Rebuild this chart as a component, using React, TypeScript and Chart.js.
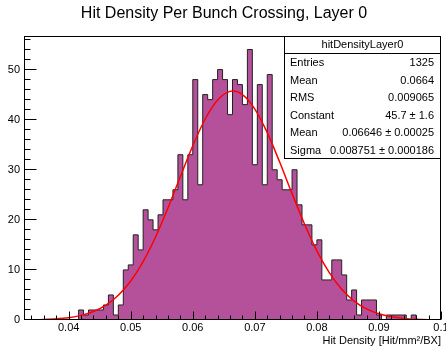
import React, { useEffect, useRef } from 'react';
import { Chart, registerables } from 'chart.js';

Chart.register(...registerables);

// ---- Histogram binning (ROOT TH1: 84 bins from 0.0328 to 0.1) ----
const binLow = 0.0328;
const binHigh = 0.1;
const binWidth = 0.0008;

// Bin contents (bin 0 .. bin 83)
const binCounts = [
  0, 0, 0, 0, 0, 0, 0, 0, 0, 0, 0,
  2, 1, 2, 2, 2, 3, 5, 1, 3, 10, 11, 17, 14, 22,
  20, 18, 21, 24, 24, 26, 33, 24, 33, 48, 27,
  45, 44, 48, 50, 48, 41, 48, 47, 43, 54, 31, 47,
  27, 49, 30, 28, 26, 26, 30, 23, 19, 19, 15, 16,
  8, 8, 12, 12, 9, 4, 6, 1, 4, 4, 4, 1, 0, 1, 1, 1, 1, 0, 1,
  0, 0, 0, 0, 0,
];

const fitX = [
  0.0328, 0.034, 0.036, 0.038, 0.04, 0.042, 0.044, 0.046, 0.048, 0.05,
  0.052, 0.054, 0.056, 0.058, 0.06, 0.062, 0.064, 0.066, 0.06646, 0.068,
  0.07, 0.072, 0.074, 0.076, 0.078, 0.08, 0.082, 0.084, 0.086, 0.088,
  0.09, 0.092, 0.094, 0.096, 0.098, 0.1,
];
const fitY = [
  0.03, 0.05, 0.11, 0.23, 0.47, 0.92, 1.70, 2.97, 4.94, 7.79,
  11.67, 16.58, 22.37, 28.64, 34.80, 40.13, 43.93, 45.64, 45.7, 45.0,
  42.11, 37.40, 31.53, 25.23, 19.16, 13.81, 9.45, 6.13, 3.78, 2.21,
  1.23, 0.65, 0.32, 0.15, 0.07, 0.03,
];

const yMax = 56.7;
const xTickValues = [0.04, 0.05, 0.06, 0.07, 0.08, 0.09, 0.1];
const xTickLabels = ['0.04', '0.05', '0.06', '0.07', '0.08', '0.09', '0.1'];
const yTickValues = [0, 10, 20, 30, 40, 50];
const yTickLabels = ['0', '10', '20', '30', '40', '50'];

const titleText = 'Hit Density Per Bunch Crossing, Layer 0';
const xTitleText = 'Hit Density [Hit/mm\u00B2/BX]';
const statsName = 'hitDensityLayer0';
const statsLabels = ['Entries', 'Mean', 'RMS', 'Constant', 'Mean', 'Sigma'];
const statsValues = ['1325', '0.0664', '0.009065', '45.7 \u00B1 1.6', '0.06646 \u00B1 0.00025', '0.008751 \u00B1 0.000186'];

const FONT = '"Liberation Sans", Arial, Helvetica, sans-serif';
const HIST_FILL = '#b5519b';
const HIST_LINE = '#222222';
const FIT_COLOR = '#ff0000';

const rootDecor = {
  id: 'rootDecor',
  afterDraw(chart: any) {
    const { ctx, chartArea: a } = chart;
    const xs = chart.scales.x;
    const ys = chart.scales.y;
    ctx.save();
    ctx.strokeStyle = '#000';
    ctx.lineWidth = 1;

    const L = Math.round(a.left) + 0.5;
    const R = Math.round(a.right) - 0.5;
    const T = Math.round(a.top) + 0.5;
    const B = Math.round(a.bottom) - 0.5;

    // frame
    ctx.strokeRect(L, T, R - L, B - T);

    // x ticks (inside, pointing up)
    ctx.beginPath();
    for (let k = 17; k <= 50; k++) {
      const v = k * 0.002;
      if (v < binLow || v > binHigh + 1e-9) continue;
      const px = Math.round(xs.getPixelForValue(v)) + 0.5;
      const len = k % 5 === 0 ? 8 : 4;
      ctx.moveTo(px, B);
      ctx.lineTo(px, B - len);
    }
    // y ticks (inside, pointing right)
    for (let k = 0; k <= 28; k++) {
      const v = k * 2;
      if (v > yMax) continue;
      const py = Math.round(ys.getPixelForValue(v)) - 0.5;
      const len = k % 5 === 0 ? 12 : 6;
      ctx.moveTo(L, py);
      ctx.lineTo(L + len, py);
    }
    ctx.stroke();

    // tick labels
    ctx.fillStyle = '#000';
    ctx.font = `11px ${FONT}`;
    ctx.textAlign = 'center';
    ctx.textBaseline = 'middle';
    xTickValues.forEach((v, i) => {
      ctx.fillText(xTickLabels[i], xs.getPixelForValue(v), 328);
    });
    ctx.textAlign = 'right';
    yTickValues.forEach((v, i) => {
      ctx.fillText(yTickLabels[i], 20, ys.getPixelForValue(v));
    });

    // x title
    ctx.textAlign = 'right';
    ctx.fillText(xTitleText, 441, 341);

    // title
    ctx.font = `16px ${FONT}`;
    ctx.textAlign = 'center';
    ctx.fillText(titleText, 224, 14);

    // stats box
    const bx = 284.5, by = T, bw = R - 284.5, bh = 122;
    ctx.fillStyle = '#fff';
    ctx.fillRect(bx, by, bw, bh);
    ctx.strokeRect(bx, by, bw, bh);
    ctx.beginPath();
    ctx.moveTo(bx, 53.5);
    ctx.lineTo(bx + bw, 53.5);
    ctx.stroke();

    ctx.fillStyle = '#000';
    ctx.font = `11px ${FONT}`;
    ctx.textAlign = 'center';
    ctx.fillText(statsName, bx + bw / 2, 45);
    statsLabels.forEach((lab, i) => {
      const yy = 63 + 17.5 * i;
      ctx.textAlign = 'left';
      ctx.fillText(lab, 290, yy);
      ctx.textAlign = 'right';
      ctx.fillText(statsValues[i], 434, yy);
    });

    ctx.restore();
  },
};

export default function App() {
  const canvasRef = useRef<HTMLCanvasElement | null>(null);

  useEffect(() => {
    const canvas = canvasRef.current;
    if (!canvas) return;

    const histPoints = binCounts.map((c, i) => ({ x: binLow + i * binWidth, y: c }));
    histPoints.push({ x: binHigh, y: 0 });
    const fitPoints = fitX.map((x, i) => ({ x, y: fitY[i] }));

    const chart = new Chart(canvas, {
      type: 'line',
      data: {
        datasets: [
          {
            label: 'fit',
            data: fitPoints,
            borderColor: FIT_COLOR,
            borderWidth: 1.5,
            pointRadius: 0,
            fill: false,
            cubicInterpolationMode: 'monotone',
            order: 0,
          },
          {
            label: 'hitDensityLayer0',
            data: histPoints,
            stepped: true,
            borderColor: HIST_LINE,
            borderWidth: 1,
            backgroundColor: HIST_FILL,
            fill: 'origin',
            pointRadius: 0,
            order: 1,
          },
        ],
      },
      options: {
        animation: false,
        responsive: false,
        events: [],
        layout: { padding: { left: 24, right: 5, top: 36, bottom: 33 } },
        plugins: {
          legend: { display: false },
          title: { display: false },
          tooltip: { enabled: false },
        },
        scales: {
          x: { type: 'linear', min: binLow, max: binHigh, display: false },
          y: { type: 'linear', min: 0, max: yMax, display: false },
        },
      } as any,
      plugins: [rootDecor],
    });

    return () => chart.destroy();
  }, []);

  return (
    <div style={{ position: 'fixed', left: 0, top: 0, width: 446, height: 353, background: '#fff' }}>
      <canvas ref={canvasRef} width={446} height={353} style={{ display: 'block' }} />
    </div>
  );
}
